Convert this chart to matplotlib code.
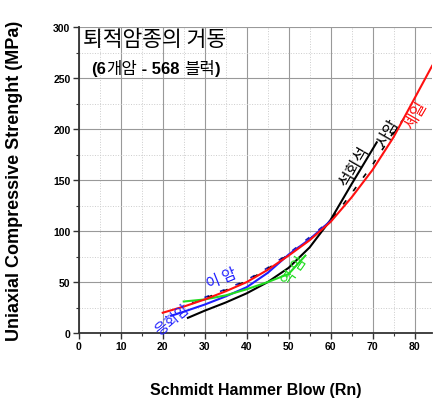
import matplotlib
matplotlib.use("Agg")
import matplotlib.pyplot as plt
from matplotlib.ticker import MultipleLocator
from matplotlib.offsetbox import TextArea, HPacker, AnnotationBbox

# 폰트
KO = ['Noto Sans CJK KR', 'DejaVu Sans']
EN = ['Liberation Sans', 'Noto Sans CJK KR']

# 셰일 (빨강)
shale_x = [20, 25, 30, 35, 40, 45, 50, 55, 60, 65, 70, 75, 80, 84.2]
shale_y = [20, 26, 33, 41, 50, 62, 76, 91, 109, 133, 160, 192, 230, 262]

# 사암 (검정 점선)
sand_x = [27, 30, 35, 40, 45, 50, 55, 60, 65, 70, 75, 78]
sand_y = [29, 34, 42, 51, 63, 77, 92, 110, 137, 165, 197, 213]

# 이암 (파랑 점선)
mud_x = [27, 30, 35, 40, 45, 50, 55, 58]
mud_y = [30, 35, 43, 52, 64, 78, 94, 104]

# 석회석 (검정)
lime_x = [26, 30, 35, 40, 45, 50, 55, 60, 65, 71]
lime_y = [15, 22, 30, 39, 50, 64, 84, 111, 146, 187]

# 응회암 (파랑)
tuff_x = [22, 25, 30, 35, 40, 45, 50, 55, 60]
tuff_y = [17, 21, 28, 36, 45, 59, 77, 92, 110]

# 역암 (초록)
cong_x = [25, 30, 35, 40, 45, 50, 54]
cong_y = [31, 33, 37, 43, 50, 58, 76]

fig = plt.figure(figsize=(4.33, 4.06), dpi=100)
ax = fig.add_axes([0.182, 0.177, 0.816, 0.754])

ax.plot(mud_x, mud_y, color='#1a1ab0', lw=1.2, linestyle=(2, (3, 7)))
ax.plot(sand_x, sand_y, color='black', lw=1.2, linestyle=(0, (3, 7)))
ax.plot(lime_x, lime_y, color='black', lw=1.5)
ax.plot(tuff_x, tuff_y, color='#1f1fff', lw=1.5)
ax.plot(cong_x, cong_y, color='#22dd22', lw=1.5)
ax.plot(shale_x, shale_y, color='#ff1010', lw=1.5)

# 곡선 이름
ax.text(80.3, 214, '셰일', color='#ff1010', rotation=60, fontsize=11.5, family=KO, ha='center', va='center')
ax.text(73.8, 197, '사암', color='black', rotation=60, fontsize=11.5, family=KO, ha='center', va='center')
ax.text(65.6, 164, '석회석', color='black', rotation=60, fontsize=11.5, family=KO, ha='center', va='center')
ax.text(34, 54, '이 암', color='#1f1fff', rotation=22, fontsize=11, family=KO, ha='center', va='center')
ax.text(51.5, 62, '역 암', color='#22dd22', rotation=55, fontsize=11, family=KO, ha='center', va='center')
ax.text(22.3, 14, '응회암', color='#1f1fff', rotation=40, fontsize=10.5, family=KO, ha='center', va='center')

# 제목
ax.text(1.0, 288, '퇴적암종의 거동', fontsize=15.5, family=KO, ha='left', va='center')
parts = [('(6', 'bold'), ('개암', 'normal'), (' - 568 ', 'bold'), ('블럭', 'normal'), (')', 'bold')]
boxes = [TextArea(t, textprops=dict(fontsize=12, fontweight=w, family=EN)) for t, w in parts]
pack = HPacker(children=boxes, pad=0, sep=0, align='baseline')
ab = AnnotationBbox(pack, (3.0, 259), xycoords='data', box_alignment=(0, 0.5), frameon=False)
ax.add_artist(ab)

ax.set_xlim(0, 84.2)
ax.set_ylim(0, 300)
ax.xaxis.set_major_locator(MultipleLocator(10))
ax.xaxis.set_minor_locator(MultipleLocator(5))
ax.yaxis.set_major_locator(MultipleLocator(50))
ax.yaxis.set_minor_locator(MultipleLocator(25))

ax.grid(True, which='major', color='#999999', lw=0.8)
ax.grid(True, which='minor', color='#cccccc', lw=0.7, linestyle=':')
ax.set_axisbelow(True)

for s in ['top', 'right']:
    ax.spines[s].set_visible(False)
for s in ['left', 'bottom']:
    ax.spines[s].set_color('#333333')
    ax.spines[s].set_linewidth(1.3)

ax.tick_params(which='major', direction='out', length=4, width=1, color='#333333',
               labelsize=7.5, pad=2)
ax.tick_params(which='minor', direction='out', length=2.5, width=0.8, color='#333333')
for lab in ax.get_xticklabels() + ax.get_yticklabels():
    lab.set_fontweight('bold')
    lab.set_family(EN)

ax.set_xlabel('Schmidt Hammer Blow (Rn)', fontsize=11.5, fontweight='bold', family=EN, labelpad=22)
ax.set_ylabel('Uniaxial Compressive Strenght (MPa)', fontsize=13, fontweight='bold', family=EN, labelpad=22)

fig.savefig('out.png', dpi=100)
